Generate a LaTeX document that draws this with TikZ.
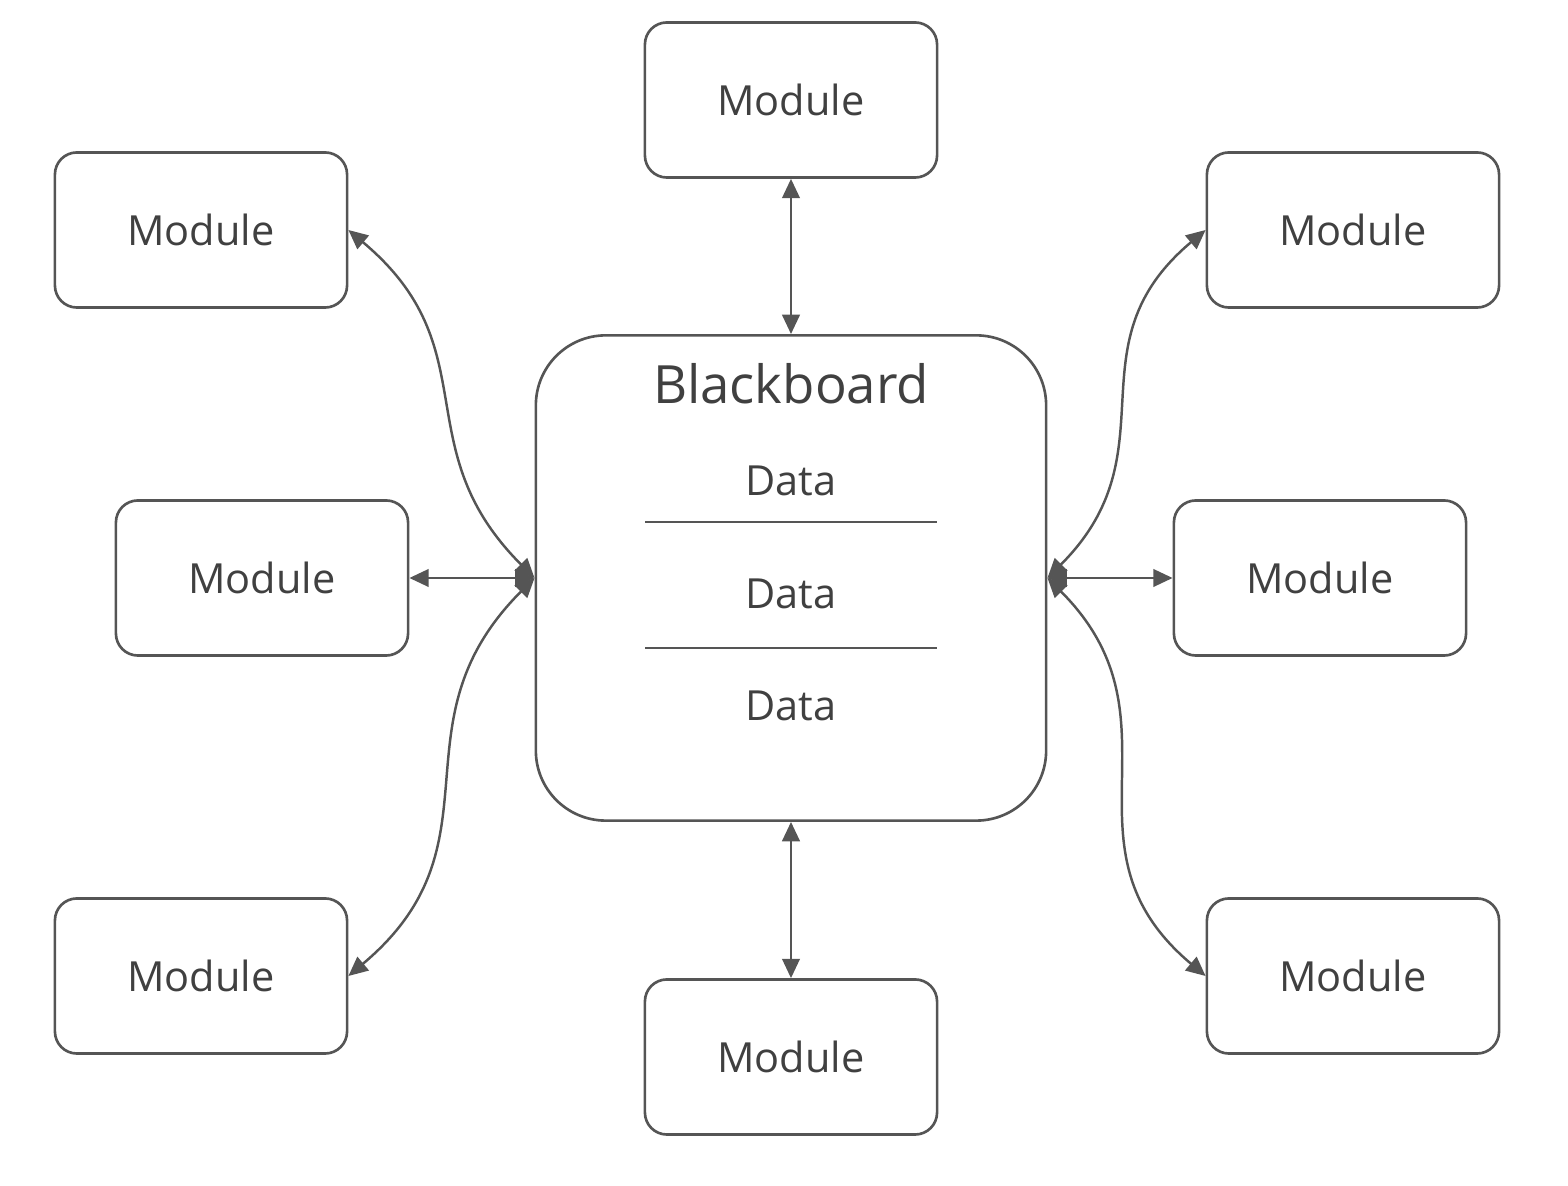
\documentclass[tikz,border=0pt]{standalone}
\usepackage{fontspec}
\setmainfont{Open Sans}
\usepackage{xcolor}
\usetikzlibrary{arrows.meta, positioning, calc}
\definecolor{linegray}{RGB}{85, 85, 85}
\definecolor{textgray}{RGB}{64, 64, 64}

\begin{document}
\begin{tikzpicture}[x=0.01cm, y=-0.01cm,
        module/.style={draw=linegray, line width=0.75pt, rounded corners=0.22cm,
            minimum width=2.92cm, minimum height=1.55cm, text=textgray,
            font=\fontsize{11.8}{14}\selectfont},
        board/.style={draw=linegray, line width=0.75pt, rounded corners=0.7cm,
            minimum width=5.1cm, minimum height=4.85cm},
        datatext/.style={text=textgray, font=\fontsize{11.8}{14}\selectfont},
        link/.style={linegray, line width=0.7pt, {Triangle[length=5.5pt,width=5pt]}-{Triangle[length=5.5pt,width=5pt]}}]
        \useasboundingbox (0,0) rectangle (1568,1186);

        % lavagna al centro
        \node[board] (bb) at (791,578) {};
        \node[text=textgray, font=\fontsize{15}{18}\selectfont] (title) at (791,384) {Blackboard};
        \node[datatext] (d1) at (791,481) {Data};
        \node[datatext] (d2) at (791,594) {Data};
        \node[datatext] (d3) at (791,706) {Data};
        \draw[linegray, line width=0.75pt] (645,522) -- (937,522);
        \draw[linegray, line width=0.75pt] (645,648) -- (937,648);

        % moduli
        \node[module] (mtop) at (791,100) {Module};
        \node[module] (mbot) at (791,1057) {Module};
        \node[module] (lt) at (201,230) {Module};
        \node[module] (lm) at (262,578) {Module};
        \node[module] (lb) at (201,976) {Module};
        \node[module] (rt) at (1353,230) {Module};
        \node[module] (rm) at (1320,578) {Module};
        \node[module] (rb) at (1353,976) {Module};

        % frecce
        \draw[link] (mtop.south) -- (bb.north);
        \draw[link] (bb.south) -- (mbot.north);
        \draw[link] (lm.east) -- (bb.west);
        \draw[link] (bb.east) -- (rm.west);
        \draw[link] (lt.east) to[out=-40, in=135, looseness=1.2] (bb.west);
        \draw[link] (lb.east) to[out=40, in=-135, looseness=1.2] (bb.west);
        \draw[link] (rt.west) to[out=-140, in=45, looseness=1.2] (bb.east);
        \draw[link] (rb.west) to[out=140, in=-45, looseness=1.2] (bb.east);
    \end{tikzpicture}
\end{document}
